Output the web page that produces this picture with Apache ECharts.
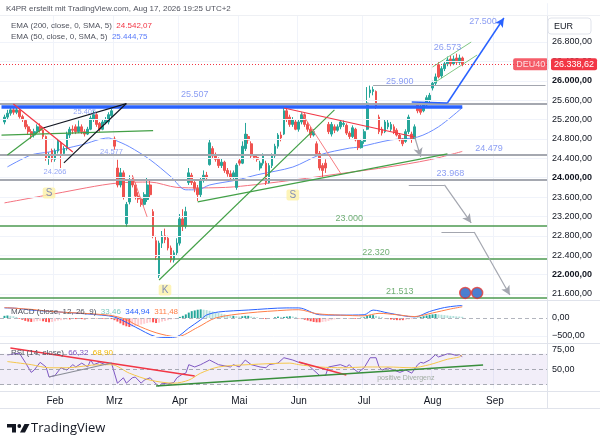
<!DOCTYPE html>
<html>
<head>
<meta charset="utf-8">
<script src="https://cdn.jsdelivr.net/npm/echarts@6.0.0/dist/echarts.min.js"></script>
<style>
html,body{margin:0;padding:0;background:#ffffff;}
#chart{width:600px;height:444px;}
</style>
</head>
<body>
<div id="chart"></div>
<script>
// ================= DATA =================
const leadDates = ['01-07'];
// [date, open, close, low, high]
const candles = [
['01-08',25150,25250,25100,25300],['01-09',25250,25330,25200,25400],['01-12',25330,25400,25280,25460],
['01-13',25400,25350,25300,25480],['01-14',25350,25400,25310,25470],['01-15',25390,25260,25220,25420],
['01-16',25260,25200,25150,25300],['01-19',25180,25050,25000,25200],['01-20',25050,24950,24880,25100],
['01-21',24950,24880,24800,25000],['01-22',24880,24950,24830,25010],['01-23',24950,25050,24900,25100],
['01-26',25050,24980,24930,25120],['01-27',24980,24850,24800,25000],['01-28',24850,24400,24350,24870],
['01-29',24400,24450,24266,24520],['01-30',24560,24380,24320,24600],
['02-02',24380,24550,24330,24600],['02-03',24550,24750,24500,24800],['02-04',24720,24500,24200,24750],
['02-05',24500,24600,24450,24650],['02-06',24600,24900,24560,24950],['02-09',24880,25000,24820,25050],
['02-10',25000,24980,24900,25080],['02-11',25050,24950,24900,25100],['02-12',24950,25050,24920,25180],
['02-13',25050,24950,24900,25100],['02-16',24950,24900,24850,25000],['02-17',24900,25000,24880,25050],
['02-18',25000,25230,24980,25280],['02-19',25200,25300,25150,25380],['02-20',25300,25100,25050,25330],
['02-23',25120,25000,24950,25150],['02-24',25000,25150,24980,25200],['02-25',25130,25200,25100,25250],
['02-26',25150,25300,25100,25350],['02-27',25280,25380,25250,25420],
['03-02',24800,24650,24577,24850],['03-03',24200,23850,23800,24370],['03-04',23850,24100,23800,24200],
['03-05',24100,23600,23550,24150],['03-06',23050,23450,22990,23500],['03-09',23500,23950,23450,24050],
['03-10',23950,23850,23800,24050],['03-11',23850,23620,23550,23900],['03-12',23620,23560,23480,23700],
['03-13',23560,23450,23400,23600],['03-16',23450,23650,23420,23700],['03-17',23550,23850,23500,24000],
['03-18',23850,23650,23600,23950],['03-19',23300,22800,22750,23350],['03-20',22700,22370,22300,22800],
['03-23',21980,22650,21930,22700],['03-24',22650,22800,22550,22900],['03-25',22800,22720,22650,22950],
['03-26',22750,22550,22500,22800],['03-27',22550,22300,22250,22600],['03-30',22300,22450,22250,22500],
['03-31',22450,22650,22400,22750],
['04-01',22650,23150,22600,23250],['04-02',23150,23000,22900,23350],['04-07',23000,23300,22950,23400],
['04-08',23900,24100,23850,24200],['04-09',24050,23900,23850,24100],['04-10',23900,23780,23700,23950],
['04-13',23780,23650,23520,23850],['04-14',23650,23950,23600,24000],['04-15',23950,24050,23900,24150],
['04-16',24050,24000,23930,24120],['04-17',24270,24720,24250,24800],['04-20',24600,24450,24400,24650],
['04-21',24480,24380,24330,24520],['04-22',24380,24250,24200,24420],['04-23',24250,24320,24200,24400],
['04-24',24320,24150,24100,24350],['04-27',24150,24080,24020,24200],['04-28',24080,24000,23950,24150],
['04-29',24000,24100,23960,24150],['04-30',23800,24260,23750,24300],
['05-04',24350,24300,24250,24400],['05-05',24300,24650,24280,24750],['05-06',24600,24900,24550,25130],
['05-07',24850,24780,24700,24900],['05-08',24700,24450,24400,24750],['05-11',24450,24420,24380,24480],
['05-12',24420,24380,24330,24470],['05-13',24200,24300,24150,24350],['05-14',24300,24450,24250,24500],
['05-15',24300,23900,23850,24350],['05-18',23900,24250,23880,24300],['05-19',24250,24450,24200,24500],
['05-20',24450,24650,24400,24700],['05-21',24650,24880,24600,24920],['05-22',24880,24820,24750,24950],
['05-25',24900,25380,24880,25450],['05-26',25380,25200,25150,25420],['05-27',25250,25100,25050,25300],
['05-28',25100,25200,25050,25250],['05-29',25150,25000,24980,25200],
['06-01',25000,25150,24950,25200],['06-02',25150,25300,25100,25350],['06-03',25300,25100,25050,25330],
['06-04',25100,25000,24950,25150],['06-05',25000,24880,24820,25050],['06-08',24880,24950,24850,25000],
['06-09',24700,24500,24450,24750],['06-10',24500,24200,24150,24550],['06-11',24250,24150,24000,24300],
['06-12',24300,24200,24100,24380],['06-15',25100,24950,24900,25150],['06-16',24900,25100,24850,25150],
['06-17',25050,24980,24920,25100],['06-18',24980,25050,24950,25100],['06-19',25050,25150,25000,25200],
['06-22',25100,25120,25050,25180],['06-23',25080,24920,24880,25120],['06-24',24920,24850,24800,24960],
['06-25',24850,25030,24820,25080],['06-26',25000,24780,24750,25030],['06-29',24780,24620,24570,24800],
['06-30',24620,24750,24600,24800],
['07-01',24750,24950,24700,25000],['07-02',25000,25540,24980,25870],['07-03',25750,25810,25650,25900],
['07-06',25780,25820,25700,25880],['07-07',25780,25460,25420,25800],['07-08',25250,24950,24900,25300],
['07-09',25000,24920,24870,25050],['07-10',24950,25150,24920,25200],['07-13',25050,25130,25000,25200],
['07-14',25000,25100,24950,25150],['07-15',25050,24950,24900,25100],['07-16',24980,24880,24850,25020],
['07-17',24880,24780,24750,24920],['07-20',24800,24700,24650,24820],['07-21',24750,24950,24720,25000],
['07-22',24950,25250,24900,25300],['07-23',24900,24800,24720,24950],['07-24',24800,25050,24780,25100],
['07-27',25500,25380,25330,25550],['07-28',25450,25350,25300,25500],['07-29',25380,25500,25350,25550],
['07-30',25500,25650,25450,25700],['07-31',25600,25700,25550,25750],
['08-03',25850,25950,25800,26000],['08-04',25950,26080,25900,26150],['08-05',26330,26080,26050,26400],
['08-06',26100,26250,26050,26300],['08-07',26250,26350,26200,26400],['08-10',26350,26430,26300,26500],
['08-11',26450,26350,26300,26520],['08-12',26350,26450,26320,26520],['08-13',26470,26380,26330,26560],
['08-14',26380,26470,26350,26540],['08-17',26470,26338.62,26300,26500]
];
const futureDates = ['08-18','08-19','08-20','08-21','08-24','08-25','08-26','08-27','08-28','08-31',
'09-01','09-02','09-03','09-04','09-07','09-08','09-09','09-10','09-11','09-14','09-15','09-16','09-17',
'09-18','09-21','09-22','09-23','09-24'];
const monthNames = {'01':'Jan','02':'Feb','03':'Mrz','04':'Apr','05':'Mai','06':'Jun','07':'Jul','08':'Aug','09':'Sep'};

const ema200 = [['01-08',23480],['02-02',23670],['03-03',23890],['03-18',23910],['03-31',23800],
['04-14',23790],['04-29',23810],['05-28',23950],['06-24',24110],['07-13',24220],['07-31',24370],['08-17',24542.07]];
const ema50 = [['01-09',24223],['01-21',24470],['01-29',24530],['02-13',24680],['02-26',24820],['03-02',24780],
['03-09',24640],['03-18',24370],['03-27',24020],['04-07',23750],['04-13',23750],['04-17',23850],['04-30',23950],
['05-12',24060],['05-28',24220],['06-10',24470],['06-24',24610],['06-29',24630],['07-14',24780],['07-27',24840],
['08-05',25050],['08-17',25444.75]];

const macdHist = [60,70,60,50,30, -20,-50,-80,-100,-110, -100,-90,-80,-90,-110,-120,-110,
-90,-70,-60,-50,-40,-40,-30,-30,-20,-30,-40,-30,-20,-10,-10,-20,-20,-30,-20,-30,
-60,-100,-150,-200,-230,-250,-240,-220, -200,-180,-160,-140,-120,-120,-140,-130,
-100,-80,-60,-40,-20,0, 30,60,100,150,190,210,230,240,230,220,200,180,
160,140,120,100,80,60,60,50, 40,50,60,60,40,30,20,0,-20,-30,-20,0,20,40,30,30,40,50,40,30,
-10,-30,-50,-70,-90,-110,-120,-120,-110,-100,-80,-60,-40,-30, -20,-10,0,-10,-20,-20,-10,10,20,
60,80,80,60,40,20, -10,-30,-40,-50,-60,-60,-60,-50,-40,-30,-20, 10,30,50,70,90,100,110,100,
90,80,70,60,55,45,40,33.46];
const macdLine = [['01-08',280],['01-14',270],['01-21',220],['01-30',180],['02-12',130],['02-26',60],
['03-03',0],['03-11',-250],['03-20',-520],['03-26',-540],['03-31',-520],['04-08',-280],['04-14',-50],
['04-16',83],['04-22',167],['05-07',222],['05-26',280],['06-01',280],['06-10',90],['06-19',80],['07-01',90],
['07-06',220],['07-13',140],['07-24',30],['07-31',180],['08-07',290],['08-13',335],['08-17',344.94]];
const macdSignal = [['01-08',290],['01-21',240],['01-30',180],['02-26',80],['03-06',-40],['03-11',-180],
['03-20',-410],['03-31',-520],['04-13',-260],['04-21',0],['05-07',140],['05-26',220],['06-01',230],
['06-09',120],['06-19',80],['07-01',60],['07-08',130],['07-16',90],['07-24',40],['08-03',140],
['08-11',250],['08-17',311.48]];

const rsiLine = [['01-09',68.6],['01-15',71],['01-19',59],['01-21',46],['01-22',49],['01-26',59],['01-28',53],
['01-29',40],['02-02',42],['02-04',52],['02-06',49],['02-10',56],['02-11',53],['02-13',58],['02-17',53],
['02-18',62],['02-19',56],['02-23',59],['02-25',56],['02-27',58],['03-03',32],['03-05',39],['03-06',32],
['03-10',39],['03-11',40],['03-13',32],['03-16',36],['03-18',39],['03-20',31],['03-23',28],['03-24',32],
['03-26',31],['03-30',33],['03-31',39],['04-02',44],['04-07',45],['04-08',56],['04-10',53],['04-14',56],
['04-15',58],['04-17',62],['04-21',58],['04-22',56],['04-28',53],['04-29',56],['05-04',53],['05-06',62],
['05-08',56],['05-13',53],['05-15',52],['05-18',56],['05-21',58],['05-25',65],['05-28',62],['06-01',59],
['06-04',56],['06-08',49],['06-10',42],['06-12',42],['06-15',53],['06-19',56],['06-23',53],['06-24',56],
['06-25',52],['06-29',46],['07-01',52],['07-03',65],['07-07',65],['07-08',53],['07-09',49],['07-13',52],
['07-15',49],['07-17',46],['07-21',49],['07-23',45],['07-27',56],['07-28',59],['07-29',58],['07-31',62],
['08-04',69],['08-05',66],['08-10',70],['08-11',70],['08-13',68],['08-14',69],['08-17',66.32]];
const rsiMA = [['01-09',60],['01-21',56],['01-29',52],['02-06',52],['02-23',56],['02-27',56],['03-09',45],
['03-18',36],['03-30',32],['04-08',36],['04-14',45],['04-22',53],['05-07',56],['05-27',58],['06-01',56],
['06-10',53],['06-22',52],['07-02',53],['07-13',53],['07-23',52],['07-31',56],['08-10',63],['08-14',66],['08-17',68.9]];

const priceTicks = [21600,22000,22400,22800,23200,23600,24000,24400,24800,25200,25600,26000,26400,26800];
const greyLevels = [25520, 24479, 23968];
const greenLevels = [23000, 22320, 21513];
const blueLevel = [['01-07',25455],['08-17',25455]];
const redTrends = [[['01-13',25521],['02-10',24532]], [['05-25',25439],['07-24',24840]]];
const redThin = [[['03-10',24056],['03-17',23190]], [['06-02',25336],['06-19',24100]]];
const greenTrends = [[['01-09',24470],['01-27',25026]], [['03-23',21890],['06-17',25400]],
  [['04-13',23500],['08-10',24490]], [['01-07',24880],['03-19',24970]]];
const blackTrends = [[['01-27',25026],['03-06',25530]], [['02-05',24305],['03-06',25530]]];
const channel = [[['08-03',26284],['08-20',26800]], [['08-04',25975],['08-24',26532]]];
const greyPaths = [[['07-06',25900],['09-24',25900]], [['07-22',23850],['08-07',23850]], [['08-06',22880],['08-21',22880]]];
const greyArrows = [[['07-24',24840],['07-28',24430]], [['08-07',23850],['08-20',23066]], [['08-21',22880],['09-08',21581]]];
const bluePaths = [[['07-23',25562],['08-10',25542]]];
const blueArrows = [[['08-10',25542],['09-04',27295]]];

const blueTexts = [['04-10',25707,'25.507'],['07-17',25990,'25.900'],['08-28',24593,'24.479'],
  ['08-11',24077,'23.968'],['08-10',26676,'26.573'],['08-26',27233,'27.500']];
const smallBlueTexts = [['02-16',25356,'25.405'],['02-27',24532,'24.577'],['02-02',24119,'24.266']];
const greenTexts = [['06-24',23149,'23.000'],['07-07',22447,'22.320'],['07-17',21643,'21.513']];
const markerTexts = [['01-29',23685,'S'],['05-28',23644,'S'],['03-25',21684,'K']];
const eventPoints = [['08-18',21622],['08-24',21622]];
const symbolText = [['09-17',26338.62,'DEU40']];

const rsiRed = [[['01-12',77.6],['04-10',41.3]], [['06-01',59.5],['06-23',42.6]]];
const rsiGrey = [[['01-29',40],['02-27',58.2]]];
const rsiGreen = [[['03-20',28.4],['08-26',55.6]]];
const rsiTexts = [['07-21',38.7,'positive Divergenz']];

// ================= BUILD =================
const FONT = '"Liberation Sans", Arial, sans-serif';
function de(v, d) {
  d = d === undefined ? 2 : d;
  const s = Math.abs(v).toFixed(d);
  const parts = s.split('.');
  const a = parts[0].replace(/\B(?=(\d{3})+(?!\d))/g, '.');
  return (v < 0 ? '\u2212' : '') + a + (d ? ',' + parts[1] : '');
}
const cats = leadDates.concat(candles.map(r => r[0]), futureDates);
const nLead = leadDates.length;
const candleData = cats.map((d, i) => (i >= nLead && i < nLead + candles.length) ? candles[i - nLead].slice(1) : '-');
const histData = cats.map((d, i) => (i >= nLead && i < nLead + macdHist.length) ? macdHist[i - nLead] : '-');
const lastClose = candles[candles.length - 1][2];
const isMonthStart = (i) => i > 0 && cats[i].slice(0, 2) !== cats[i - 1].slice(0, 2);

function segs(list, style, arrow) {
  return list.map(p => [
    {coord: p[0], lineStyle: style, symbol: 'none'},
    {coord: p[1], symbol: arrow ? 'arrow' : 'none', symbolSize: arrow ? [7, 9] : 0}
  ]);
}
function hlines(vals, style) {
  return vals.map(v => ({yAxis: v, lineStyle: style}));
}
function textSeries(data, xi, yi, labelStyle, z) {
  return {
    type: 'scatter', xAxisIndex: xi, yAxisIndex: yi, data: data, symbolSize: 1, silent: true, z: z || 6,
    itemStyle: {color: 'rgba(0,0,0,0)'},
    label: Object.assign({show: true, position: 'inside', formatter: p => p.value[2], fontFamily: FONT}, labelStyle)
  };
}
const xBase = (gi) => ({
  type: 'category', gridIndex: gi, data: cats, boundaryGap: true,
  axisLine: {show: false}, axisTick: {show: false}, axisLabel: {show: false},
  splitLine: {show: gi < 3, interval: (i) => isMonthStart(i), lineStyle: {color: '#f0f3fa', width: 1}}
});
const labelStyleAxis = {fontSize: 9, color: '#131722', fontFamily: FONT, margin: 5};

const RED = '#f23645', GREEN = '#43a047', GREY = '#a3a6af', BLUE = '#2962ff', BLACK = '#131722';

const option = {
  animation: false,
  textStyle: {fontFamily: FONT},
  grid: [
    {left: 0, right: 53, top: 3.23, height: 310.17, outerBoundsMode: 'none'},
    {left: 0, right: 53, top: 300, height: 54, outerBoundsMode: 'none'},
    {left: 0, right: 53, top: 330.7, height: 57.9, outerBoundsMode: 'none'},
    {left: 0, right: 53, top: 391, height: 1, outerBoundsMode: 'none'}
  ],
  xAxis: [xBase(0), xBase(1), xBase(2), Object.assign(xBase(3), {
    axisLabel: {show: true, interval: (i) => isMonthStart(i), formatter: v => monthNames[v.slice(0, 2)],
      fontSize: 10, color: '#131722', margin: 4, fontFamily: FONT}
  })],
  yAxis: [
    {type: 'value', gridIndex: 0, position: 'right', min: 21200, max: 27600, interval: 400,
      axisLine: {show: false}, axisTick: {show: false}, splitLine: {show: false},
      axisLabel: Object.assign({}, labelStyleAxis, {
        formatter: v => (v < 21600 || v > 26800) ? '' : (v % 2000 === 0 ? '{b|' + de(v) + '}' : de(v)),
        rich: {b: {fontWeight: 'bold', fontSize: 9, color: '#131722', fontFamily: FONT}}
      })},
    {type: 'value', gridIndex: 1, position: 'right', min: -1000, max: 500, interval: 500,
      axisLine: {show: false}, axisTick: {show: false}, splitLine: {show: false},
      axisLabel: Object.assign({}, labelStyleAxis, {formatter: v => (v === 0 || v === -500) ? de(v) : ''})},
    {type: 'value', gridIndex: 2, position: 'right', min: 25, max: 100, interval: 25,
      axisLine: {show: false}, axisTick: {show: false}, splitLine: {show: false},
      axisLabel: Object.assign({}, labelStyleAxis, {formatter: v => (v === 75 || v === 50) ? de(v) : ''})},
    {type: 'value', gridIndex: 3, show: false}
  ],
  series: [
    {type: 'line', xAxisIndex: 0, yAxisIndex: 0, data: [], z: 1, silent: true,
      markLine: {silent: true, symbol: ['none', 'none'], label: {show: false},
        data: hlines(priceTicks, {color: '#f0f3fa', width: 1, type: 'solid'})}},
    {type: 'candlestick', xAxisIndex: 0, yAxisIndex: 0, data: candleData, barWidth: '76%', z: 3,
      itemStyle: {color: '#26a69a', color0: '#ef5350', borderColor: '#26a69a', borderColor0: '#ef5350', borderWidth: 1}},
    {type: 'line', xAxisIndex: 0, yAxisIndex: 0, data: ema200, symbol: 'none', smooth: 0.3, z: 3,
      lineStyle: {color: '#f4727f', width: 1}},
    {type: 'line', xAxisIndex: 0, yAxisIndex: 0, data: ema50, symbol: 'none', smooth: 0.3, z: 3,
      lineStyle: {color: '#6b8cff', width: 1}},
    {type: 'line', xAxisIndex: 0, yAxisIndex: 0, data: [], z: 4, silent: true,
      markLine: {silent: true, symbol: ['none', 'none'], label: {show: false}, emphasis: {disabled: true},
        data: [].concat(
          hlines(greyLevels, {color: '#a5a8b0', width: 2, type: 'solid'}),
          hlines(greenLevels, {color: '#4c9a50', width: 1.5, type: 'solid'}),
          segs([blueLevel], {color: BLUE, width: 3.5, type: 'solid'}),
          segs(greenTrends, {color: GREEN, width: 1.2, type: 'solid'}),
          segs(blackTrends, {color: BLACK, width: 1.2, type: 'solid'}),
          segs(redTrends, {color: RED, width: 1.2, type: 'solid'}),
          segs(redThin, {color: '#f77c80', width: 1, type: 'solid'}),
          segs(channel, {color: '#81c784', width: 1, type: 'solid'}),
          segs(greyPaths, {color: GREY, width: 1.2, type: 'solid'}),
          segs(greyArrows, {color: GREY, width: 1.2, type: 'solid'}, true),
          segs(bluePaths, {color: BLUE, width: 1.5, type: 'solid'}),
          segs(blueArrows, {color: BLUE, width: 1.5, type: 'solid'}, true),
          [{yAxis: lastClose, lineStyle: {color: RED, width: 1, type: [1, 2]},
            label: {show: true, position: 'end', distance: 4, formatter: de(lastClose), backgroundColor: RED,
              color: '#ffffff', fontSize: 9, padding: [2, 3, 1, 3], borderRadius: 2, fontFamily: FONT}}]
        )}},
    {type: 'scatter', xAxisIndex: 0, yAxisIndex: 0, data: eventPoints, symbol: 'circle', symbolSize: 11, z: 6, silent: true,
      itemStyle: {color: '#1f5fc4', borderColor: '#e53935', borderWidth: 1.5}},
    textSeries(blueTexts, 0, 0, {fontSize: 9, color: '#6f86f0'}),
    textSeries(smallBlueTexts, 0, 0, {fontSize: 7.5, color: '#7b90f3'}),
    textSeries(greenTexts, 0, 0, {fontSize: 9, color: '#4c9a50'}),
    textSeries(markerTexts, 0, 0, {fontSize: 10, color: '#6373b8', backgroundColor: '#fdf1a6', padding: [1, 3, 0, 3], borderRadius: 2}),
    textSeries(symbolText, 0, 0, {fontSize: 9, color: '#ffffff', backgroundColor: RED, padding: [2, 3, 1, 3], borderRadius: 2}, 7),
    {type: 'bar', xAxisIndex: 1, yAxisIndex: 1, data: histData, barWidth: '66%', z: 2, silent: true,
      itemStyle: {color: function (p) {
        const i = p.dataIndex - nLead; const v = macdHist[i]; const prev = i > 0 ? macdHist[i - 1] : v;
        return v >= 0 ? (v >= prev ? '#26a69a' : '#b2dfdb') : (v <= prev ? '#ff5252' : '#ffcdd2');
      }},
      markLine: {silent: true, symbol: ['none', 'none'], label: {show: false},
        data: [{yAxis: 0, lineStyle: {color: '#b2b5be', width: 1, type: [4, 3]}},
               {yAxis: -500, lineStyle: {color: '#f0f3fa', width: 1, type: 'solid'}}]}},
    {type: 'line', xAxisIndex: 1, yAxisIndex: 1, data: macdLine, symbol: 'none', smooth: 0.3, z: 3,
      lineStyle: {color: '#2962ff', width: 1}},
    {type: 'line', xAxisIndex: 1, yAxisIndex: 1, data: macdSignal, symbol: 'none', smooth: 0.3, z: 3,
      lineStyle: {color: '#ff7e47', width: 1}},
    {type: 'line', xAxisIndex: 2, yAxisIndex: 2, data: rsiLine, symbol: 'none', z: 3,
      lineStyle: {color: '#7e57c2', width: 1},
      markArea: {silent: true, itemStyle: {color: 'rgba(126,87,194,0.1)'}, data: [[{yAxis: 30}, {yAxis: 70}]]},
      markLine: {silent: true, symbol: ['none', 'none'], label: {show: false},
        data: hlines([70, 50, 30], {color: '#9598a1', width: 1, type: [4, 3], opacity: 0.8})}},
    {type: 'line', xAxisIndex: 2, yAxisIndex: 2, data: rsiMA, symbol: 'none', smooth: 0.3, z: 3,
      lineStyle: {color: '#f5c64a', width: 1}},
    {type: 'line', xAxisIndex: 2, yAxisIndex: 2, data: [], z: 4, silent: true,
      markLine: {silent: true, symbol: ['none', 'none'], label: {show: false},
        data: [].concat(
          segs(rsiRed, {color: RED, width: 1.5, type: 'solid'}),
          segs(rsiGrey, {color: '#8a8d96', width: 1.2, type: 'solid'}),
          segs(rsiGreen, {color: '#388e3c', width: 1.5, type: 'solid'})
        )}},
    textSeries(rsiTexts, 2, 2, {fontSize: 7, color: '#8c9b8c'})
  ],
  graphic: [
    {type: 'rect', shape: {x: 0, y: 0, width: 547, height: 15}, style: {fill: '#ffffff'}, z: 50},
    {type: 'line', shape: {x1: 0, y1: 15.5, x2: 600, y2: 15.5}, style: {stroke: '#eef0f4', lineWidth: 1}, z: 50},
    {type: 'text', x: 6, y: 9, z: 51, style: {text: 'K4PR erstellt mit TradingView.com, Aug 17, 2026 19:25 UTC+2',
      fill: '#50535e', fontSize: 8, fontFamily: FONT, verticalAlign: 'middle'}},
    {type: 'text', x: 11, y: 26, z: 51, style: {
      text: '{a|EMA (200, close, 0, SMA, 5)}  {r|' + de(ema200[ema200.length - 1][1]) + '}',
      fontSize: 8, fontFamily: FONT, verticalAlign: 'middle',
      rich: {a: {fill: '#50535e', fontSize: 8}, r: {fill: RED, fontSize: 8}}}},
    {type: 'text', x: 11, y: 37, z: 51, style: {
      text: '{a|EMA (50, close, 0, SMA, 5)}  {r|' + de(ema50[ema50.length - 1][1]) + '}',
      fontSize: 8, fontFamily: FONT, verticalAlign: 'middle',
      rich: {a: {fill: '#50535e', fontSize: 8}, r: {fill: '#5b7cfa', fontSize: 8}}}},
    {type: 'text', x: 11, y: 312, z: 51, style: {
      text: '{a|MACD (close, 12, 26, 9)}  {h|' + de(macdHist[macdHist.length - 1]) + '}  {m|' +
        de(macdLine[macdLine.length - 1][1]) + '}  {s|' + de(macdSignal[macdSignal.length - 1][1]) + '}',
      fontSize: 8, fontFamily: FONT, verticalAlign: 'middle',
      rich: {a: {fill: '#50535e', fontSize: 8}, h: {fill: '#7fc8bf', fontSize: 8}, m: {fill: '#2962ff', fontSize: 8}, s: {fill: '#ff7e47', fontSize: 8}}}},
    {type: 'text', x: 11, y: 353, z: 51, style: {
      text: '{a|RSI (14, close)}  {r|' + de(rsiLine[rsiLine.length - 1][1]) + '}  {m|' + de(rsiMA[rsiMA.length - 1][1]) + '}',
      fontSize: 8, fontFamily: FONT, verticalAlign: 'middle',
      rich: {a: {fill: '#50535e', fontSize: 8}, r: {fill: '#7e57c2', fontSize: 8}, m: {fill: '#f2b705', fontSize: 8}}}},
    {type: 'line', shape: {x1: 0, y1: 300.5, x2: 600, y2: 300.5}, style: {stroke: '#e0e3eb', lineWidth: 1}, z: 40},
    {type: 'line', shape: {x1: 0, y1: 343.5, x2: 600, y2: 343.5}, style: {stroke: '#e0e3eb', lineWidth: 1}, z: 40},
    {type: 'line', shape: {x1: 0, y1: 391.5, x2: 600, y2: 391.5}, style: {stroke: '#e0e3eb', lineWidth: 1}, z: 40},
    {type: 'line', shape: {x1: 0, y1: 408.5, x2: 600, y2: 408.5}, style: {stroke: '#e0e3eb', lineWidth: 1}, z: 40},
    {type: 'line', shape: {x1: 547.5, y1: 15.5, x2: 547.5, y2: 408.5}, style: {stroke: '#e0e3eb', lineWidth: 1}, z: 40},
    {type: 'rect', shape: {x: 548, y: 18, width: 43, height: 16, r: 3}, style: {fill: '#ffffff', stroke: '#e0e3eb', lineWidth: 1}, z: 45},
    {type: 'text', x: 554, y: 26.5, z: 46, style: {text: 'EUR', fill: '#131722', fontSize: 9, fontFamily: FONT, verticalAlign: 'middle'}},
    {type: 'polygon', shape: {points: [[7, 424], [16, 424], [16, 432.5], [12, 432.5], [12, 427.5], [7, 427.5]]}, style: {fill: '#131722'}, z: 50},
    {type: 'circle', shape: {cx: 19.3, cy: 426, r: 1.9}, style: {fill: '#131722'}, z: 50},
    {type: 'polygon', shape: {points: [[24.5, 424], [29.5, 424], [25, 432.5], [20, 432.5]]}, style: {fill: '#131722'}, z: 50},
    {type: 'text', x: 31, y: 428, z: 50, style: {text: 'TradingView', fill: '#131722', fontSize: 13, fontWeight: 500,
      fontFamily: '"Open Sans", "Liberation Sans", sans-serif', verticalAlign: 'middle'}}
  ]
};

const chart = echarts.init(document.getElementById('chart'), null, {renderer: 'canvas'});
chart.setOption(option);
</script>
</body>
</html>
